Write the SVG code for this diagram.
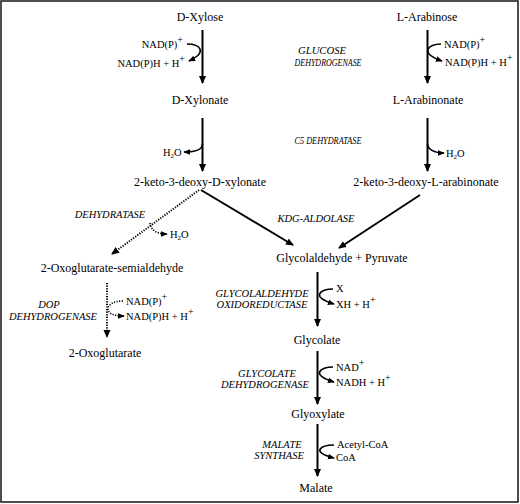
<svg xmlns="http://www.w3.org/2000/svg" width="520" height="504" viewBox="0 0 520 504">
<style>
text{font-family:'Liberation Serif','Times New Roman',Times,serif}
.t{font-size:12px;fill:#000;text-anchor:middle}
.c{font-size:10.5px;fill:#000}
.e{font-size:10.5px;font-style:italic;fill:#000;text-anchor:middle}
.sup{font-size:10px}
.sub{font-size:7px}
.m{fill:none;stroke:#000;stroke-width:2}
.cf{fill:none;stroke:#000;stroke-width:1.6}
.d{fill:none;stroke:#000;stroke-width:2;stroke-dasharray:1.2 1.4}
.dc{fill:none;stroke:#000;stroke-width:1.6;stroke-dasharray:1.2 1.4}
</style>
<defs>
<marker id="ah" markerUnits="userSpaceOnUse" viewBox="0 0 8 8" refX="7" refY="4" markerWidth="8" markerHeight="8" orient="auto">
<path d="M0,0.5 L8,4 L0,7.5 Z" fill="#000"/>
</marker>
<marker id="as" markerUnits="userSpaceOnUse" viewBox="0 0 8 8" refX="7" refY="4" markerWidth="7" markerHeight="7" orient="auto">
<path d="M0,0.8 L8,4 L0,7.2 Z" fill="#000"/>
</marker>
</defs>
<rect x="1" y="1" width="517" height="501" fill="#fff" stroke="#222" stroke-width="1.6"/>

<g id="connectors">
<path class="m" d="M202.5,30 V83" marker-end="url(#ah)"/>
<path class="m" d="M202.5,118 V171" marker-end="url(#ah)"/>
<path class="m" d="M427.5,30 V83" marker-end="url(#ah)"/>
<path class="m" d="M427.5,118 V171" marker-end="url(#ah)"/>
<path class="m" d="M201,190 L293,245" marker-end="url(#ah)"/>
<path class="m" d="M420,195 L339,248" marker-end="url(#ah)"/>
<path class="d" d="M199,190 L112,254" marker-end="url(#ah)"/>
<path class="d" d="M107,283 V337" marker-end="url(#ah)"/>
<path class="m" d="M317.5,272 V326" marker-end="url(#ah)"/>
<path class="m" d="M317.5,351 V404" marker-end="url(#ah)"/>
<path class="m" d="M317.5,424 V476" marker-end="url(#ah)"/>
<path class="cf" d="M187,44 C200,44 208,52 189,61" marker-end="url(#as)"/>
<path class="cf" d="M202.5,144 C202.5,149 196,152 184,152" marker-end="url(#as)"/>
<path class="cf" d="M441,44 C428,44 419,53 442,61" marker-end="url(#as)"/>
<path class="cf" d="M427.5,144 C427.5,149 434,153 444,153" marker-end="url(#as)"/>
<path class="dc" d="M150,223 C151,230 156,234 167,234" marker-end="url(#as)"/>
<path class="dc" d="M123,301 C113,301 108,305 108,309 C108,313 113,316 124,316" marker-end="url(#as)"/>
<path class="cf" d="M333,289 C320,289 310,297 334,304" marker-end="url(#as)"/>
<path class="cf" d="M333,367 C320,367 310,375 334,382" marker-end="url(#as)"/>
<path class="cf" d="M334,445 C321,445 310,452 334,458" marker-end="url(#as)"/>
</g>

<g id="d-xylose"><text class="t" x="200" y="21">D-Xylose</text></g>
<g id="d-xylonate"><text class="t" x="200" y="104">D-Xylonate</text></g>
<g id="kd-xylonate"><text class="t" x="200" y="186">2-keto-3-deoxy-D-xylonate</text></g>
<g id="l-arabinose"><text class="t" x="427" y="21">L-Arabinose</text></g>
<g id="l-arabinonate"><text class="t" x="428" y="104">L-Arabinonate</text></g>
<g id="kd-arabinonate"><text class="t" x="426" y="186">2-keto-3-deoxy-L-arabinonate</text></g>
<g id="oxo-semi"><text class="t" x="112" y="272">2-Oxoglutarate-semialdehyde</text></g>
<g id="oxoglutarate"><text class="t" x="105" y="357">2-Oxoglutarate</text></g>
<g id="glycolaldehyde"><text class="t" x="342" y="262">Glycolaldehyde + Pyruvate</text></g>
<g id="glycolate"><text class="t" x="317" y="344">Glycolate</text></g>
<g id="glyoxylate"><text class="t" x="318" y="418">Glyoxylate</text></g>
<g id="malate"><text class="t" x="316" y="492">Malate</text></g>

<g id="cofactors">
<text class="c" x="183" y="48" text-anchor="end">NAD(P)<tspan class="sup" dy="-5">+</tspan></text>
<text class="c" x="185" y="67" text-anchor="end">NAD(P)H + H<tspan class="sup" dy="-5">+</tspan></text>
<text class="c" x="163" y="156">H<tspan class="sub" dy="2">2</tspan><tspan dy="-2">O</tspan></text>
<text class="c" x="444" y="48">NAD(P)<tspan class="sup" dy="-5">+</tspan></text>
<text class="c" x="445" y="66">NAD(P)H + H<tspan class="sup" dy="-5">+</tspan></text>
<text class="c" x="446" y="157">H<tspan class="sub" dy="2">2</tspan><tspan dy="-2">O</tspan></text>
<text class="c" x="170" y="238">H<tspan class="sub" dy="2">2</tspan><tspan dy="-2">O</tspan></text>
<text class="c" x="126" y="305">NAD(P)<tspan class="sup" dy="-5">+</tspan></text>
<text class="c" x="126" y="320">NAD(P)H + H<tspan class="sup" dy="-5">+</tspan></text>
<text class="c" x="336" y="292">X</text>
<text class="c" x="336" y="308">XH + H<tspan class="sup" dy="-5">+</tspan></text>
<text class="c" x="336" y="371">NAD<tspan class="sup" dy="-5">+</tspan></text>
<text class="c" x="336" y="386">NADH + H<tspan class="sup" dy="-5">+</tspan></text>
<text class="c" x="337" y="448">Acetyl-CoA</text>
<text class="c" x="336" y="461">CoA</text>
</g>

<g id="enzymes">
<text class="e" x="322" y="54" textLength="48" lengthAdjust="spacingAndGlyphs">GLUCOSE</text>
<text class="e" x="328" y="66" textLength="67" lengthAdjust="spacingAndGlyphs">DEHYDROGENASE</text>
<text class="e" x="328" y="144" textLength="67" lengthAdjust="spacingAndGlyphs">C5 DEHYDRATASE</text>
<text class="e" x="110" y="218">DEHYDRATASE</text>
<text class="e" x="316" y="222">KDG-ALDOLASE</text>
<text class="e" x="49" y="308">DOP</text>
<text class="e" x="53" y="320">DEHYDROGENASE</text>
<text class="e" x="262" y="297">GLYCOLALDEHYDE</text>
<text class="e" x="262" y="308">OXIDOREDUCTASE</text>
<text class="e" x="267" y="377">GLYCOLATE</text>
<text class="e" x="265" y="388">DEHYDROGENASE</text>
<text class="e" x="282" y="448">MALATE</text>
<text class="e" x="279" y="459">SYNTHASE</text>
</g>
</svg>
